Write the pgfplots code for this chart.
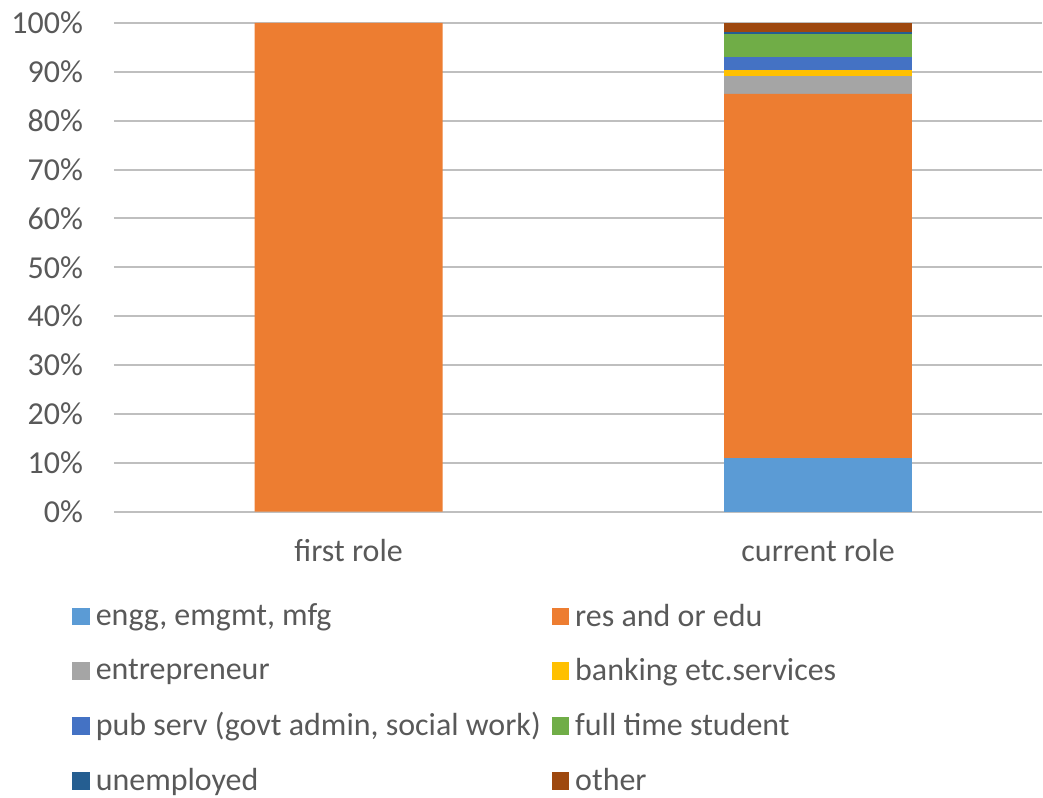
\documentclass[border=0pt]{standalone}
\usepackage{fontspec}
\setmainfont{Carlito}
\usepackage{pgfplots}
\pgfplotsset{compat=1.18}

\definecolor{cEngg}{HTML}{5B9BD5}
\definecolor{cRes}{HTML}{ED7D31}
\definecolor{cEnt}{HTML}{A5A5A5}
\definecolor{cBank}{HTML}{FFC000}
\definecolor{cPub}{HTML}{4472C4}
\definecolor{cStud}{HTML}{70AD47}
\definecolor{cUnemp}{HTML}{255E91}
\definecolor{cOther}{HTML}{9E480E}
\definecolor{txt}{HTML}{595959}
\definecolor{grid}{HTML}{D9D9D9}

\begin{document}
\begin{tikzpicture}
\begin{axis}[
  scale only axis,
  width=464.5pt, height=244.5pt,
  ybar stacked, bar width=94pt,
  xmin=-0.5, xmax=1.477,
  ymin=0, ymax=100,
  xtick={0,1}, xticklabels={first role, current role},
  ytick={0,10,...,100},
  yticklabel={\pgfmathprintnumber[assume math mode=true]{\tick}\%},
  axis line style={draw=none},
  major tick length=0pt,
  ymajorgrids, grid style={grid, line width=1pt},
  font=\fontsize{16}{19}\selectfont,
  ticklabel style={text=txt, font=\fontsize{16}{19}\selectfont},
  yticklabel style={xshift=-12pt},
  xticklabel style={yshift=-10.5pt},
  legend style={at={(-21pt,-44pt)}, anchor=north west, draw=none, fill=none,
    legend columns=2, text=txt, font=\fontsize{16}{19}\selectfont,
    row sep=10.6pt, inner sep=0pt,
    /tikz/every odd column/.append style={column sep=1pt},
    /tikz/every even column/.append style={column sep=3.5pt}},
  legend cell align=left,
  legend image code/.code={\fill[#1] (0pt,-4.4pt) rectangle (8.75pt,4.4pt);},
  every axis plot/.append style={draw=none},
]
% first role, current role
\addplot[fill=cEngg]   coordinates {(0,0)   (1,11.0)};
\addlegendentry{engg, emgmt, mfg}
\addplot[fill=cRes]    coordinates {(0,100) (1,74.5)};
\addlegendentry{res and or edu}
\addplot[fill=cEnt]    coordinates {(0,0)   (1,3.7)};
\addlegendentry{entrepreneur}
\addplot[fill=cBank]   coordinates {(0,0)   (1,1.2)};
\addlegendentry{banking etc.services}
\addplot[fill=cPub]    coordinates {(0,0)   (1,2.7)};
\addlegendentry{pub serv (govt admin, social work)}
\addplot[fill=cStud]   coordinates {(0,0)   (1,4.6)};
\addlegendentry{full time student}
\addplot[fill=cUnemp]  coordinates {(0,0)   (1,0.4)};
\addlegendentry{unemployed}
\addplot[fill=cOther]  coordinates {(0,0)   (1,1.9)};
\addlegendentry{other}
\end{axis}
\path (-57pt,-141.5pt) rectangle (464.5pt,256pt);
\end{tikzpicture}
\end{document}
